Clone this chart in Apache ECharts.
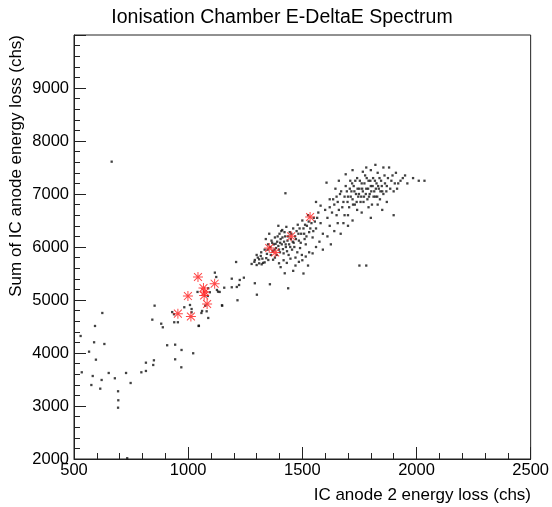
<!DOCTYPE html>
<html><head><meta charset="utf-8">
<script src="https://cdn.jsdelivr.net/npm/echarts@6/dist/echarts.min.js"></script>
<style>html,body{margin:0;padding:0;background:#fff}#c{width:552px;height:507px}</style>
</head><body><div id="c"></div>
<script>
const chartTitle = 'Ionisation Chamber E-DeltaE Spectrum';
const xTitle = 'IC anode 2 energy loss (chs)';
const yTitle = 'Sum of IC anode energy loss (chs)';
const xMin = 500, xMax = 2500, xStep = 500;
const yMin = 2000, yMax = 10000, yStep = 1000;

// black events [anode2, sum]
const lowEvents = [
 [529,4321],[624,4755],[592,4510],[588,4202],[633,4170],[566,4025],[596,3874],[534,3636],[582,3566],
 [621,3491],[576,3396],[615,3327],[652,3623],[679,3523],[693,3278],[694,3108],[693,2968],[728,3623],
 [748,3434],[733,2015],[795,3636],[815,3661],[815,3817],[847,3774],[850,3862],[908,4146],[943,4157],
 [943,3881],[971,4057],[970,3730],[1022,3995],[665,7610]
];
const cluster1Events = [
 [843,4629],[853,4893],[882,4553],[889,4485],[930,4772],[938,4731],[939,4580],[955,4580],[983,4863],
 [1008,4906],[1015,4830],[1015,4768],[1046,4510],[1061,4793],[1088,4661],[1086,5076],[1131,5157],
 [1148,4900],[1041,5152],[1088,5221],[1075,4893],[1081,4787],[1058,4755],[1047,4515],[1095,5146]
];
const bandEvents = [
 [1117,5516],[1123,5434],[1126,5189],[1138,5152],[1149,4893],[1158,5232],[1191,5402],[1191,5240],
 [1213,5246],[1223,5283],[1210,5717],[1226,5378],[1244,5421],[1216,4995],[1292,5316],[1301,5100],
 [1278,5680],[1292,5755],[1311,5768],[1311,5692],[1300,5660],[1322,5673],[1335,5710],[1351,5755],
 [1398,5693],[1423,5504],[1438,5221],[1358,5297],[1426,7014]
];
const cluster2Events = [
 [1300,5850],[1320,5900],[1335,5950],[1345,5870],[1350,6050],[1360,6000],[1365,6120],[1370,5920],
 [1375,6050],[1380,6180],[1385,5980],[1390,6100],[1395,6020],[1400,6250],[1402,5900],[1405,6150],
 [1410,6050],[1412,6320],[1415,5960],[1420,6100],[1425,6200],[1428,6000],[1430,6380],[1435,6120],
 [1440,5850],[1442,6050],[1445,6280],[1450,6150],[1455,5950],[1460,6350],[1462,6080],[1468,6200],
 [1470,5800],[1475,6300],[1480,6420],[1485,6120],[1490,5980],[1495,6250],[1500,6500],[1505,6350],
 [1510,6150],[1515,6050],[1520,6400],[1525,6600],[1530,6280],[1540,6450],[1545,6180],[1550,6550],
 [1560,6350],[1570,6650],[1580,6450],[1590,6250],[1600,6700],[1610,6550],[1620,6400],[1325,5780],
 [1340,6150],[1355,6250],[1380,5800],[1395,6400],[1470,5650],[1500,5750],[1530,5900],[1560,6000],
 [1460,5550],[1505,5500],
 [1290,5720],[1305,5800],[1318,5830],[1328,5700],[1342,5790],[1348,5950],[1362,5850],[1368,6080],
 [1372,5760],[1378,5950],[1383,6060],[1388,5850],[1392,6200],[1398,5950],[1403,6080],[1408,6300],
 [1413,6180],[1418,5880],[1422,6280],[1427,6050],[1433,5920],[1438,6200],[1447,6000],[1452,6250],
 [1458,6100],[1465,6000],[1472,6150],[1478,5900],[1483,6250],[1488,6350],[1493,6080],[1498,5850],
 [1508,6250],[1512,6420],[1518,6200],[1528,6480],[1535,6350],[1548,6300],[1555,6480],[1565,6550],
 [1405,5620],[1418,5750],[1432,5700],[1448,5780],[1485,5720],[1515,5820],[1525,5650],[1545,5880],
 [1575,6100],[1590,5950],[1610,6200],[1625,6050],[1640,6300],[1655,6450],[1668,6250],[1685,6600],
 [1700,6400],[1580,6780],[1560,6850],[1620,6900]
];
const cluster3Events = [
 [1606,7214],[1690,7372],[1640,6800],[1650,6950],[1660,6700],[1670,7050],[1680,6850],[1690,7150],
 [1700,6950],[1705,6750],[1710,7250],[1715,7050],[1720,6900],[1725,7150],[1730,6800],[1735,7000],
 [1740,7300],[1745,6950],[1750,7100],[1755,6850],[1760,7200],[1765,7050],[1770,6950],[1775,7350],
 [1780,7100],[1785,6900],[1790,7250],[1795,7000],[1800,7150],[1805,6800],[1810,7300],[1815,7050],
 [1820,6950],[1825,7200],[1830,7400],[1835,7100],[1840,6900],[1845,7250],[1850,7050],[1860,7350],
 [1870,7150],[1880,7500],[1890,7250],[1900,7050],[1910,7400],[1920,7200],[1940,7300],[1700,6600],
 [1720,6500],[1760,6650],[1800,6550],[1850,6700],[1750,5650],[1780,5650],[1900,6600],[1660,7250],
 [1720,7450],[1780,7500],[1650,6600],[1680,6450],[1630,6650],
 [1620,6750],[1635,6900],[1645,7100],[1655,6850],[1665,7000],[1675,6750],[1685,6950],[1695,7050],
 [1698,6850],[1708,7100],[1712,6950],[1718,7200],[1722,6800],[1728,7050],[1732,7250],[1738,6850],
 [1742,7100],[1748,7000],[1752,7250],[1758,6950],[1762,7100],[1768,6850],[1772,7200],[1778,7000],
 [1782,7300],[1788,7100],[1792,6950],[1798,7250],[1802,7050],[1808,7150],[1812,6950],[1818,7250],
 [1822,7100],[1828,6950],[1832,7150],[1838,7300],[1842,7050],[1848,7150],[1855,7000],[1862,7200],
 [1868,7050],[1875,7300],[1885,7100],[1895,7350],[1905,7200],[1915,7100],[1930,7250],[1950,7350],
 [1960,7200],[1985,7300],[2010,7250],[2035,7250],[1765,7420],[1800,7450],[1820,7550],[1855,7500],
 [1740,6700],[1790,6750],[1830,6800],[1870,6850]
];
// red asterisk events
const markedEvents = [
 [955,4742],[999,5075],[1012,4689],[1043,5434],[1067,5226],[1070,5085],[1073,5151],[1083,4925],
 [1116,5308],[1355,5981],[1381,5896],[1451,6202],[1534,6566]
];

const asterisk = 'path://M9,0L11,0L11,20L9,20Z M0,9L20,9L20,11L0,11Z M1.4,2.8L2.8,1.4L18.6,17.2L17.2,18.6Z M17.2,1.4L18.6,2.8L2.8,18.6L1.4,17.2Z';
const allEvents = lowEvents.concat(cluster1Events, bandEvents, cluster2Events, cluster3Events);

const chart = echarts.init(document.getElementById('c'), null, {renderer: 'canvas'});
const font = 'Liberation Sans, Arial, Helvetica, sans-serif';
const plain = v => String(v);
chart.setOption({
  animation: false,
  backgroundColor: '#fff',
  grid: {left: 74, right: 21, top: 35, bottom: 48, show: true, borderColor: '#222', borderWidth: 1, backgroundColor: 'transparent'},
  xAxis: {
    type: 'value', min: xMin, max: xMax, interval: xStep,
    axisLine: {show: true, onZero: false, lineStyle: {color: '#222', width: 1}},
    axisTick: {show: true, inside: true, length: 12, lineStyle: {color: '#222'}},
    minorTick: {show: true, splitNumber: 5, length: 6, lineStyle: {color: '#222'}},
    splitLine: {show: false},
    axisLabel: {color: '#000', fontFamily: font, fontSize: 16.5, margin: 3, formatter: plain}
  },
  yAxis: {
    type: 'value', min: yMin, max: yMax, interval: yStep,
    axisLine: {show: true, onZero: false, lineStyle: {color: '#222', width: 1}},
    axisTick: {show: true, inside: true, length: 12, lineStyle: {color: '#222'}},
    minorTick: {show: true, splitNumber: 5, length: 6, lineStyle: {color: '#222'}},
    splitLine: {show: false},
    axisLabel: {color: '#000', fontFamily: font, fontSize: 16.5, margin: 5, showMaxLabel: false, formatter: plain}
  },
  graphic: [
    {type: 'text', x: 282, y: 17.5, style: {text: chartTitle, font: '19.5px ' + font, fill: '#000', textAlign: 'center', textVerticalAlign: 'middle'}},
    {type: 'text', x: 531, y: 495, style: {text: xTitle, font: '17px ' + font, fill: '#000', textAlign: 'right', textVerticalAlign: 'middle'}},
    {type: 'text', x: 16, y: 35, rotation: Math.PI / 2, style: {text: yTitle, font: '17px ' + font, fill: '#000', textAlign: 'right', textVerticalAlign: 'middle'}}
  ],
  series: [
    {type: 'scatter', data: allEvents, symbol: 'rect', symbolSize: 2.3, itemStyle: {color: '#111'}, silent: true},
    {type: 'scatter', data: markedEvents, symbol: asterisk, symbolSize: 10, itemStyle: {color: '#ff1a1a'}, silent: true}
  ]
});
</script>
</body></html>
